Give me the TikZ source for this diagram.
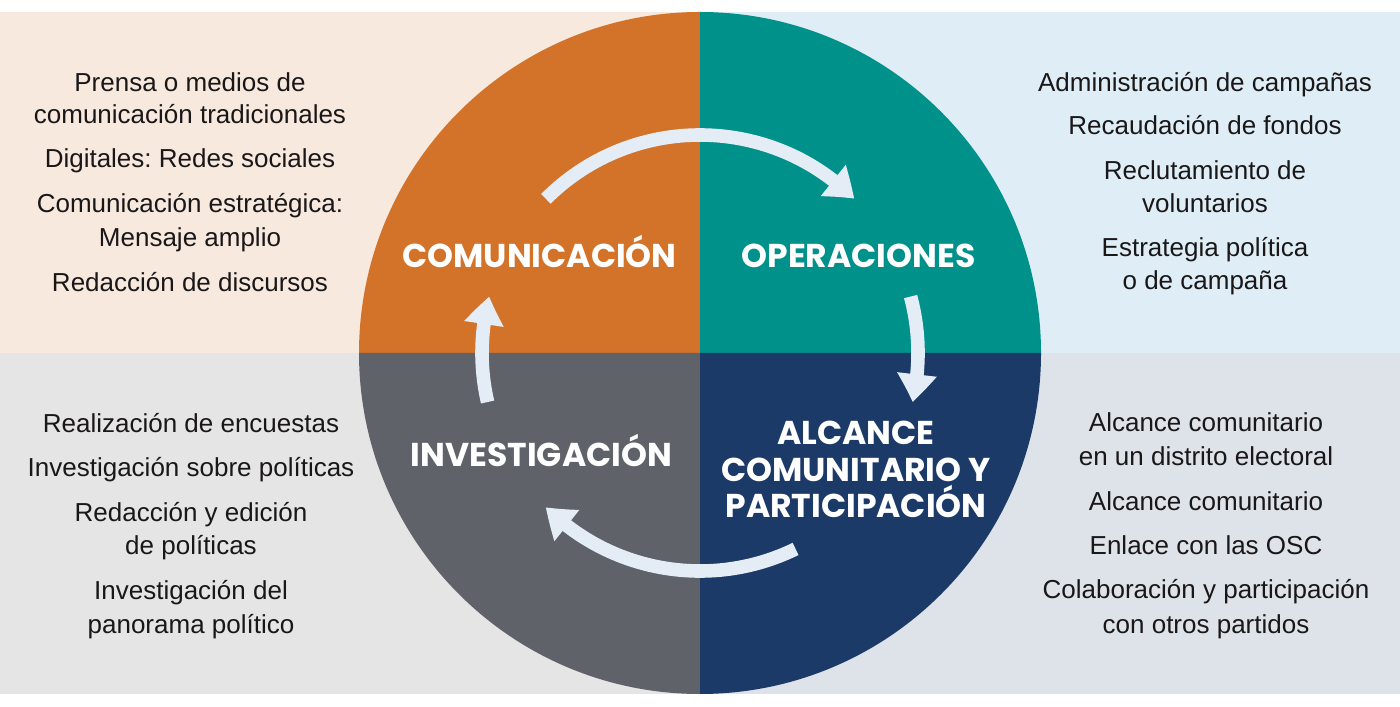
\documentclass[tikz,border=0pt]{standalone}
\usepackage{fontspec}
\setmainfont{Liberation Sans}
\newfontfamily\headfont{Poppins}
\usetikzlibrary{arrows.meta,bending}
\frenchspacing
\definecolor{bgTL}{HTML}{F8E9DF}
\definecolor{bgTR}{HTML}{DFEEF6}
\definecolor{bgBL}{HTML}{E5E5E6}
\definecolor{bgBR}{HTML}{DEE2E9}
\definecolor{cOrange}{HTML}{D3732A}
\definecolor{cTeal}{HTML}{00918A}
\definecolor{cNavy}{HTML}{1C3A68}
\definecolor{cGray}{HTML}{5F6268}
\definecolor{cArrow}{HTML}{E4ECF6}
\definecolor{cText}{HTML}{1A1718}
\tikzset{
  body/.style={anchor=base,inner sep=0pt,text=cText,font=\frenchspacing\fontsize{13pt}{16pt}\selectfont},
  head/.style={anchor=base,inner sep=0pt,text=white,font=\headfont\bfseries\fontsize{16.5pt}{20pt}\selectfont},
  flow/.style={draw=cArrow,line width=6.8pt,-{Triangle[width=19pt,length=14pt,bend]}},
}
\begin{document}
\begin{tikzpicture}[x=0.5pt,y=0.5pt]
\useasboundingbox (0,0) rectangle (1400,706);
\fill[white] (0,0) rectangle (1400,706);
% background quadrants
\fill[bgTL] (0,353) rectangle (700,694);
\fill[bgTR] (700,353) rectangle (1400,694);
\fill[bgBL] (0,12) rectangle (700,353);
\fill[bgBR] (700,12) rectangle (1400,353);
% circle quadrants
\coordinate (ctr) at (700,353);
\fill[cOrange] (ctr) -- ++(0,170.5pt) arc[start angle=90,end angle=180,radius=170.5pt] -- cycle;
\fill[cTeal] (ctr) -- ++(170.5pt,0) arc[start angle=0,end angle=90,radius=170.5pt] -- cycle;
\fill[cGray] (ctr) -- ++(-170.5pt,0) arc[start angle=180,end angle=270,radius=170.5pt] -- cycle;
\fill[cNavy] (ctr) -- ++(0,-170.5pt) arc[start angle=270,end angle=360,radius=170.5pt] -- cycle;
% cycle arrows
\draw[flow] ([shift={(135:109pt)}]ctr) arc[start angle=135,end angle=45,radius=109pt];
\draw[flow] ([shift={(15:109pt)}]ctr) arc[start angle=15,end angle=-13,radius=109pt];
\draw[flow] ([shift={(-64:109pt)}]ctr) arc[start angle=-64,end angle=-135,radius=109pt];
\draw[flow] ([shift={(193:109pt)}]ctr) arc[start angle=193,end angle=165,radius=109pt];
% headings
\node[head] (hCom) at (539.5,438) {COMUNICACIÓN};
\node[head] (hOpe) at (858.5,438) {OPERACIONES};
\node[head] (hInv) at (541.5,239) {INVESTIGACIÓN};
\node[head] (hAl1) at (856,261) {ALCANCE};
\node[head] (hAl2) at (856,224) {COMUNITARIO Y};
\node[head] (hAl3) at (856,188) {PARTICIPACIÓN};
% top-left
\node[body] (tl1) at (190,614) {Prensa o medios de};
\node[body] (tl2) at (190,582) {comunicación tradicionales};
\node[body] (tl3) at (190,538) {Digitales: Redes sociales};
\node[body] (tl4) at (190,493) {Comunicación estratégica:};
\node[body] (tl5) at (190,459) {Mensaje amplio};
\node[body] (tl6) at (190,414) {Redacción de discursos};
% top-right
\node[body] (tr1) at (1205,614) {Administración de campañas};
\node[body] (tr2) at (1205,571) {Recaudación de fondos};
\node[body] (tr3) at (1205,526) {Reclutamiento de};
\node[body] (tr4) at (1205,493) {voluntarios};
\node[body] (tr5) at (1205,449) {Estrategia política};
\node[body] (tr6) at (1205,416) {o de campaña};
% bottom-left
\node[body] (bl1) at (191,273) {Realización de encuestas};
\node[body] (bl2) at (191,229) {Investigación sobre políticas};
\node[body] (bl3) at (191,184) {Redacción y edición};
\node[body] (bl4) at (191,151) {de políticas};
\node[body] (bl5) at (191,106) {Investigación del};
\node[body] (bl6) at (191,73) {panorama político};
% bottom-right
\node[body] (br1) at (1206,274) {Alcance comunitario};
\node[body] (br2) at (1206,240) {en un distrito electoral};
\node[body] (br3) at (1206,195) {Alcance comunitario};
\node[body] (br4) at (1206,151) {Enlace con las OSC};
\node[body] (br5) at (1206,107) {Colaboración y participación};
\node[body] (br6) at (1206,73) {con otros partidos};
\end{tikzpicture}
\end{document}
